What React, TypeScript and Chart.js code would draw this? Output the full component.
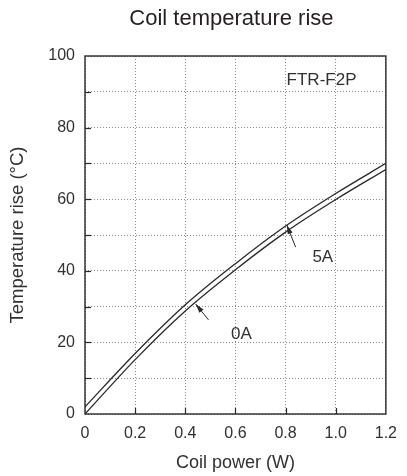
import React, { useEffect, useRef } from "react";
import { Chart, registerables } from "chart.js";

Chart.register(...registerables);

// Coil power (W)
const powerW = [0, 0.2, 0.4, 0.6, 0.8, 1.0, 1.2];
// Temperature rise (°C) at 5A contact current
const rise5A = [2.0, 16.9, 30.5, 42.0, 52.5, 61.6, 70.0];
// Temperature rise (°C) at 0A contact current
const rise0A = [0.0, 15.2, 28.8, 40.3, 50.8, 59.9, 68.3];

const chartTitle = "Coil temperature rise";
const modelName = "FTR-F2P";
const curveLabels = ["0A", "5A"];

const INK = "#2b2728";
const TEXT = "#333031";
const FONT = "'Liberation Sans', Arial, sans-serif";

// Title, axis frame, inward tick marks and curve call-outs
const framePlugin = {
  id: "frame",
  afterDatasetsDraw(chart: any) {
    const { ctx, chartArea: a, scales } = chart;
    const xs = scales.x;
    const ys = scales.y;
    ctx.save();

    ctx.fillStyle = "#231f20";
    ctx.font = `22px ${FONT}`;
    ctx.textAlign = "center";
    ctx.textBaseline = "middle";
    ctx.fillText(chartTitle, (a.left + a.right) / 2 - 4, 19);

    ctx.strokeStyle = INK;
    ctx.lineWidth = 1.4;
    ctx.strokeRect(a.left, a.top, a.right - a.left, a.bottom - a.top);

    ctx.lineWidth = 1.2;
    for (let v = 10; v < 100; v += 10) {
      const y = Math.round(ys.getPixelForValue(v)) + 0.5;
      ctx.beginPath();
      ctx.moveTo(a.left, y);
      ctx.lineTo(a.left + 6, y);
      ctx.stroke();
    }
    for (let i = 1; i < 6; i++) {
      const x = Math.round(xs.getPixelForValue(i * 0.2)) + 0.5;
      ctx.beginPath();
      ctx.moveTo(x, a.bottom);
      ctx.lineTo(x, a.bottom - 6);
      ctx.stroke();
    }

    const px = (x: number) => xs.getPixelForValue(x);
    const py = (y: number) => ys.getPixelForValue(y);

    ctx.fillStyle = TEXT;
    ctx.font = `17px ${FONT}`;
    ctx.textAlign = "left";
    ctx.textBaseline = "middle";
    ctx.fillText(modelName, px(0.804), py(93.1));
    ctx.fillText(curveLabels[0], px(0.582), py(22.3));
    ctx.fillText(curveLabels[1], px(0.907), py(43.9));

    const arrow = (x0: number, y0: number, x1: number, y1: number) => {
      const sx = px(x0), sy = py(y0), ex = px(x1), ey = py(y1);
      const ang = Math.atan2(ey - sy, ex - sx);
      ctx.strokeStyle = INK;
      ctx.fillStyle = INK;
      ctx.lineWidth = 1;
      ctx.beginPath();
      ctx.moveTo(sx, sy);
      ctx.lineTo(ex, ey);
      ctx.stroke();
      const len = 9, w = 2.6;
      ctx.beginPath();
      ctx.moveTo(ex, ey);
      ctx.lineTo(ex - len * Math.cos(ang) + w * Math.sin(ang), ey - len * Math.sin(ang) - w * Math.cos(ang));
      ctx.lineTo(ex - len * Math.cos(ang) - w * Math.sin(ang), ey - len * Math.sin(ang) + w * Math.cos(ang));
      ctx.closePath();
      ctx.fill();
    };
    arrow(0.4925, 26.3, 0.4417, 30.7);
    arrow(0.84, 46.6, 0.805, 52.8);
    ctx.restore();
  },
};

export default function App() {
  const ref = useRef<HTMLCanvasElement>(null);

  useEffect(() => {
    if (!ref.current) return;
    const line = (data: number[]) => ({
      data: powerW.map((x, i) => ({ x, y: data[i] })),
      borderColor: INK,
      borderWidth: 1.3,
      pointRadius: 0,
      cubicInterpolationMode: "monotone" as const,
      fill: false,
    });
    const chart = new Chart(ref.current, {
      type: "line",
      data: { datasets: [line(rise5A), line(rise0A)] },
      plugins: [framePlugin],
      options: {
        animation: false,
        responsive: false,
        maintainAspectRatio: false,
        layout: { padding: { left: 0, right: 15, top: 56, bottom: 0 } },
        plugins: {
          legend: { display: false },
          tooltip: { enabled: false },
          title: { display: false },
        },
        scales: {
          x: {
            type: "linear",
            min: 0,
            max: 1.2,
            afterFit: (s: any) => { s.height = 62; },
            ticks: {
              stepSize: 0.2,
              color: TEXT,
              padding: 10,
              maxRotation: 0,
              font: { family: FONT, size: 16 },
              callback: (v: any) => (Math.abs(v) < 1e-9 ? "0" : Number(v).toFixed(1)),
            },
            grid: { color: "#8a8a8a", lineWidth: 1, drawTicks: false },
            border: { display: false, dash: [1, 2] },
            title: {
              display: true,
              text: "Coil power (W)",
              color: TEXT,
              font: { family: FONT, size: 18 },
              padding: { top: 0, bottom: 2 },
            },
          },
          y: {
            min: 0,
            max: 100,
            afterFit: (s: any) => { s.width = 85; },
            ticks: {
              stepSize: 10,
              color: TEXT,
              padding: 10,
              font: { family: FONT, size: 16 },
              callback: (v: any) => (Number(v) % 20 === 0 ? String(v) : ""),
            },
            grid: { color: "#8a8a8a", lineWidth: 1, drawTicks: false },
            border: { display: false, dash: [1, 2] },
            title: {
              display: true,
              text: "Temperature rise (°C)",
              color: TEXT,
              font: { family: FONT, size: 18.5 },
              padding: { top: 7, bottom: 0 },
            },
          },
        },
      },
    });
    return () => chart.destroy();
  }, []);

  return (
    <div style={{ position: "fixed", left: 0, top: 0, width: 407, height: 476, background: "#fff" }}>
      <canvas ref={ref} width={407} height={476} />
    </div>
  );
}
